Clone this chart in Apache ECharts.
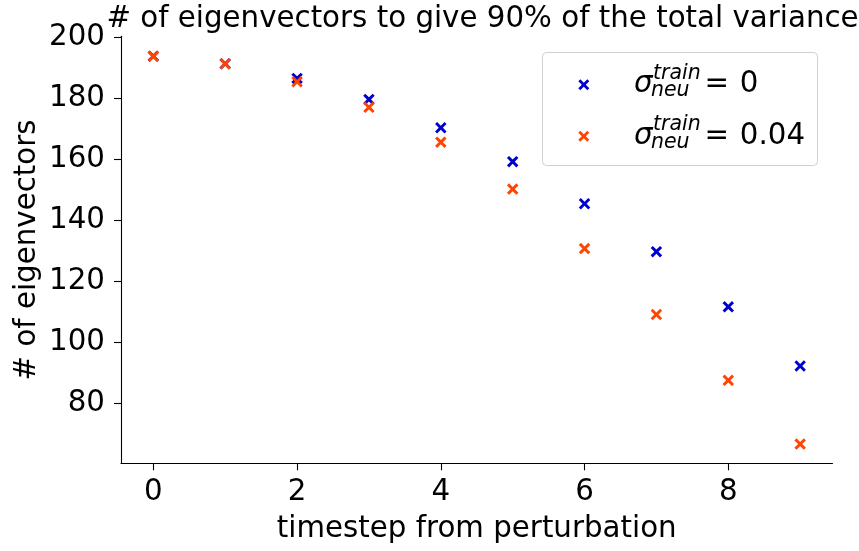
<!DOCTYPE html>
<html><head><meta charset="utf-8">
<script src="https://cdn.jsdelivr.net/npm/echarts@6/dist/echarts.min.js"></script>
<style>html,body{margin:0;padding:0;background:#fff}#c{width:859px;height:551px}</style>
</head><body><div id="c"></div>
<script>
const timesteps = [0, 1, 2, 3, 4, 5, 6, 7, 8, 9];
const sigma0 = [193.8, 191.3, 186.5, 179.6, 170.3, 159.2, 145.4, 129.7, 111.6, 92.2];
const sigma004 = [193.8, 191.3, 185.4, 177.0, 165.6, 150.2, 130.7, 109.1, 87.5, 66.6];
const xTicks = [0, 2, 4, 6, 8];
const yTicks = [80, 100, 120, 140, 160, 180, 200];
const seriesNames = ['sigma0', 'sigma004'];
const legendValues = ['0', '0.04'];
const yAxisTitle = '# of eigenvectors';

const FONT = 'DejaVu Sans';
const FS = 29.3;
const XPATH = 'path://M0,1.8 L1.8,0 L5,3.2 L8.2,0 L10,1.8 L6.8,5 L10,8.2 L8.2,10 L5,6.8 L1.8,10 L0,8.2 L3.2,5 Z';
const BLUE = '#0000cd', ORANGE = '#ff4500';

const chart = echarts.init(document.getElementById('c'), null, {renderer: 'canvas'});
function pairs(ys) { return timesteps.map((t, i) => [t, ys[i]]); }

function txt(x, y, text, font) {
  return {type: 'text', x: x, y: y, z: 10,
    style: {text: text, font: font, fill: '#000', align: 'left', verticalAlign: 'middle'}};
}
const legendText = [];
legendValues.forEach((v, i) => {
  const dy = i * 51.5;
  legendText.push(
    txt(634, 84.5 + dy, 'σ', 'italic 29.3px "DejaVu Sans"'),
    txt(653, 73.3 + dy, 'train', 'italic 20.5px "DejaVu Sans"'),
    txt(651, 91 + dy, 'neu', 'italic 20.5px "DejaVu Sans"'),
    txt(704.4, 84.5 + dy, '=', '29.3px "DejaVu Sans"'),
    txt(739.8, 84.5 + dy, v, '29.3px "DejaVu Sans"')
  );
});

chart.setOption({
  animation: false,
  title: {
    text: '# of eigenvectors to give 90% of the total variance',
    left: 477.5, top: 0, textAlign: 'center',
    textStyle: {fontFamily: FONT, fontSize: FS, fontWeight: 'normal', color: '#000'}
  },
  grid: {left: 121, right: 26.5, top: 36.3, bottom: 87.7, containLabel: false},
  legend: {
    orient: 'vertical', left: 578.3, top: 79.2, padding: 0, itemWidth: 11, itemHeight: 11, itemGap: 40.5,
    data: [{name: 'sigma0', icon: XPATH}, {name: 'sigma004', icon: XPATH}],
    formatter: () => '', textStyle: {fontSize: 1, lineHeight: 1},
    selectedMode: false
  },
  graphic: [
    {type: 'rect', x: 542.5, y: 52.5, z: 1, shape: {x: 0, y: 0, width: 275, height: 113, r: 4},
     style: {fill: 'rgba(255,255,255,0.8)', stroke: '#d0d0d0', lineWidth: 1}},
    {type: 'text', x: 27, y: 250, rotation: Math.PI / 2, z: 10,
     style: {text: yAxisTitle, font: '29.3px "DejaVu Sans"', fill: '#000', align: 'center', verticalAlign: 'middle'}}
  ].concat(legendText),
  xAxis: {
    type: 'value', min: -0.45, max: 9.45,
    name: 'timestep from perturbation', nameLocation: 'middle', nameGap: 52,
    nameTextStyle: {fontFamily: FONT, fontSize: FS, color: '#000'},
    axisLine: {show: true, onZero: false, lineStyle: {color: '#000', width: 1.1}},
    axisTick: {show: true, length: 7, lineStyle: {color: '#000', width: 1.1}, customValues: xTicks},
    axisLabel: {fontFamily: FONT, fontSize: FS, color: '#000', margin: 15, customValues: xTicks},
    splitLine: {show: false}
  },
  yAxis: {
    type: 'value', min: 60.3, max: 200.3,
    axisLine: {show: true, onZero: false, lineStyle: {color: '#000', width: 1.1}},
    axisTick: {show: true, length: 7, lineStyle: {color: '#000', width: 1.1}, customValues: yTicks},
    axisLabel: {fontFamily: FONT, fontSize: FS, color: '#000', margin: 16, customValues: yTicks},
    splitLine: {show: false}
  },
  series: [
    {name: seriesNames[0], type: 'scatter', data: pairs(sigma0), symbol: XPATH, symbolSize: 11.5, itemStyle: {color: BLUE, opacity: 1}},
    {name: seriesNames[1], type: 'scatter', data: pairs(sigma004), symbol: XPATH, symbolSize: 11.5, itemStyle: {color: ORANGE, opacity: 1}}
  ]
});
</script></body></html>
